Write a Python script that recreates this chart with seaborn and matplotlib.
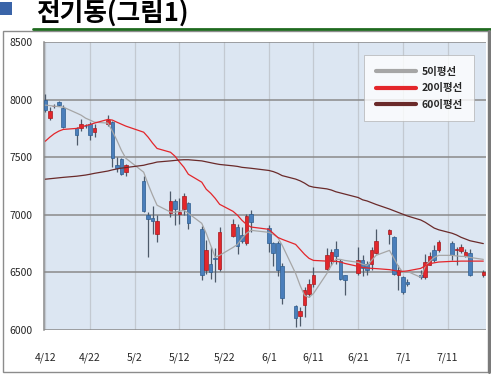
import numpy as np
import pandas as pd
import matplotlib
matplotlib.use("Agg")
import matplotlib.pyplot as plt
import matplotlib.dates as mdates
from matplotlib.lines import Line2D
from matplotlib.patches import Rectangle
import seaborn as sns

# trading days (2010)
days = ["04-12", "04-13", "04-14", "04-15", "04-16",
        "04-19", "04-20", "04-21", "04-22", "04-23",
        "04-26", "04-27", "04-28", "04-29", "04-30",
        "05-04", "05-05", "05-06", "05-07",
        "05-10", "05-11", "05-12", "05-13", "05-14",
        "05-17", "05-18", "05-19", "05-20", "05-21",
        "05-24", "05-25", "05-26", "05-27", "05-28",
        "06-01", "06-02", "06-03", "06-04",
        "06-07", "06-08", "06-09", "06-10", "06-11",
        "06-14", "06-15", "06-16", "06-17", "06-18",
        "06-21", "06-22", "06-23", "06-24", "06-25",
        "06-28", "06-29", "06-30", "07-01", "07-02",
        "07-05", "07-06", "07-07", "07-08", "07-09",
        "07-12", "07-13", "07-14", "07-15", "07-16",
        "07-19"]

opens = [7996, 7839, 7942, 7981, 7929,
         7750, 7755, 7775, 7784, 7715,
         7784, 7807, 7430, 7483, 7372,
         7291, 7002, 6972, 6836,
         7019, 7117, 7011, 7054, 7099,
         6880, 6517, 6570, 6625, 6532,
         6813, 6894, 6822, 6758, 7004,
         6889, 6755, 6755, 6552,
         6204, 6118, 6213, 6315, 6402,
         6526, 6604, 6706, 6596, 6474,
         6497, 6604, 6576, 6576, 6671,
         6837, 6807, 6474, 6459, 6416,
         6474, 6459, 6567, 6697, 6691,
         6758, 6695, 6683, 6642, 6671,
         6474]
closes = [7909, 7900, 7948, 7952, 7763,
          7697, 7787, 7770, 7697, 7750,
          7822, 7497, 7402, 7358, 7428,
          7033, 6961, 6946, 6943,
          7120, 7054, 7028, 7161, 6929,
          6474, 6691, 6503, 6615, 6851,
          6923, 6726, 6772, 6987, 6937,
          6755, 6668, 6523, 6280,
          6106, 6164, 6343, 6402, 6474,
          6654, 6677, 6642, 6439, 6430,
          6604, 6537, 6517, 6697, 6770,
          6871, 6489, 6517, 6329, 6402,
          6462, 6590, 6639, 6610, 6763,
          6647, 6700, 6720, 6677, 6474,
          6503]
highs = [8045, 7937, 7965, 7990, 7952,
         7760, 7830, 7790, 7804, 7784,
         7865, 7815, 7503, 7490, 7437,
         7335, 7020, 7074, 6996,
         7207, 7141, 7150, 7190, 7110,
         6900, 6778, 6720, 6709, 6890,
         6965, 6923, 6894, 7010, 7045,
         6909, 6765, 6770, 6580,
         6215, 6198, 6370, 6445, 6546,
         6711, 6706, 6775, 6620, 6480,
         6720, 6648, 6600, 6720, 6874,
         6880, 6815, 6561, 6470, 6440,
         6517, 6660, 6680, 6740, 6780,
         6770, 6720, 6750, 6700, 6706,
         6520]
lows = [7893, 7822, 7930, 7945, 7752,
        7610, 7730, 7755, 7648, 7676,
        7775, 7416, 7372, 7345, 7340,
        7020, 6633, 6830, 6763,
        6981, 6909, 6917, 6996, 6880,
        6430, 6489, 6445, 6416, 6510,
        6805, 6657, 6755, 6740, 6851,
        6677, 6552, 6470, 6230,
        6030, 6039, 6110, 6285, 6372,
        6517, 6561, 6575, 6430, 6300,
        6474, 6468, 6480, 6517, 6663,
        6750, 6474, 6343, 6310, 6385,
        6445, 6440, 6560, 6590, 6680,
        6610, 6561, 6670, 6630, 6465,
        6460]

ma5 = [7952, 7948, 7943, 7939, 7935,
       7883, 7865, 7839, 7822, 7804,
       7796, 7726, 7648, 7561, 7491,
       7370, 7265, 7170, 7083,
       7024, 7022, 7030, 7039, 7013,
       6926, 6839, 6735, 6633, 6648,
       6717, 6743, 6796, 6839, 6865,
       6848, 6830, 6804, 6735,
       6491, 6387, 6300, 6283, 6317,
       6491, 6561, 6613, 6613, 6604,
       6587, 6570, 6561, 6604, 6648,
       6691, 6622, 6552, 6500, 6509,
       6457, 6552, 6596, 6630, 6648,
       6648, 6643, 6639, 6639, 6630,
       6613]
ma20 = [7639, 7674, 7704, 7726, 7741,
        7750, 7761, 7774, 7783, 7796,
        7828, 7822, 7804, 7787, 7770,
        7717, 7674, 7622, 7576,
        7543, 7509, 7459, 7413, 7352,
        7283, 7222, 7187, 7143, 7091,
        7030, 6996, 6952, 6917, 6894,
        6874, 6839, 6804, 6787,
        6743, 6700, 6657, 6622, 6604,
        6598, 6596, 6596, 6591, 6578,
        6552, 6543, 6539, 6535, 6533,
        6524, 6517, 6509, 6509, 6513,
        6535, 6557, 6576, 6583, 6590,
        6596, 6596, 6598, 6598, 6598,
        6598]
ma60 = [7309, 7313, 7317, 7321, 7325,
        7335, 7340, 7345, 7352, 7360,
        7380, 7390, 7398, 7405, 7410,
        7430, 7440, 7448, 7458,
        7468, 7472, 7476, 7478, 7478,
        7468, 7460, 7452, 7444, 7437,
        7425, 7420, 7412, 7408, 7404,
        7385, 7375, 7360, 7340,
        7310, 7295, 7275, 7250, 7240,
        7225, 7215, 7200, 7190, 7180,
        7150, 7130, 7120, 7105, 7090,
        7050, 7035, 7020, 7005, 6990,
        6955, 6935, 6910, 6885, 6870,
        6840, 6825, 6805, 6790, 6775,
        6750]

tick_labels = ["4/12", "4/22", "5/2", "5/12", "5/22", "6/1", "6/11", "6/21", "7/1", "7/11"]
y_ticks = [6000, 6500, 7000, 7500, 8000, 8500]
ma_names = ["5이평선", "20이평선", "60이평선"]
ma_colors = ["#a6a6a6", "#e3262b", "#6a2a2a"]

df = pd.DataFrame({"date": pd.to_datetime(["2010-" + d for d in days]),
                   "open": opens, "high": highs, "low": lows, "close": closes,
                   "5이평선": ma5, "20이평선": ma20, "60이평선": ma60})
df["x"] = mdates.date2num(df["date"])
long = df.melt(id_vars="x", value_vars=ma_names, var_name="ma", value_name="v")

sns.set_style("white")
plt.rcParams["font.family"] = ["Noto Sans CJK KR", "DejaVu Sans"]

fig = plt.figure(figsize=(4.91, 3.77), dpi=100)
W, H = 491, 377
ax = fig.add_axes([44 / W, 1 - 330 / H, (486 - 44) / W, (330 - 42) / H])
ax.set_facecolor("#dce6f2")

# candles
up = df["close"] >= df["open"]
face = np.where(up, "#e3262b", "#4a7ebb")
edge = np.where(up, "#a51a1e", "#2d5d8f")
ax.vlines(df["x"], df["low"], df["high"], color="#4d5a6a", lw=0.9, zorder=3)
ax.bar(df["x"], df["close"] - df["open"], bottom=df["open"], width=0.8,
       color=face, edgecolor=edge, linewidth=0.5, zorder=4)

# moving averages
sns.lineplot(data=long, x="x", y="v", hue="ma", hue_order=ma_names,
             palette=ma_colors, linewidth=0.9, legend=False, ax=ax, zorder=5)

x0 = mdates.date2num(pd.Timestamp("2010-04-12"))
ax.set_xlim(x0 - 0.3, df["x"].iloc[-1] + 0.6)
ax.set_ylim(6000, 8500)

tick_x = [mdates.date2num(pd.Timestamp("2010-" + t.replace("/", "-"))) for t in tick_labels]
ax.set_xticks(tick_x)
ax.set_xticklabels(tick_labels, fontsize=7.5)
ax.set_yticks(y_ticks)
ax.set_yticklabels([str(v) for v in y_ticks], fontsize=7.5)
ax.tick_params(axis="x", length=0, pad=16)
ax.tick_params(axis="y", length=0, pad=8)

ax.set_xlabel("")
ax.set_ylabel("")
for v in tick_x:
    ax.axvline(v, color="#c3c9d1", lw=0.9, zorder=1)
for v in y_ticks:
    ax.axhline(v, color="#8a8a8a", lw=1.1, zorder=2)
for s in ["top", "bottom", "right"]:
    ax.spines[s].set_visible(False)
ax.spines["left"].set_color("#8a8a8a")
ax.spines["left"].set_linewidth(1.1)

# legend
handles = [Line2D([0], [0], color=c, lw=3) for c in ma_colors]
leg = ax.legend(handles, ma_names, loc="upper right", bbox_to_anchor=(0.985, 0.972),
                fontsize=7.5, frameon=True, fancybox=False, handlelength=3.9,
                handletextpad=0.5, labelspacing=0.62, borderpad=1.1)
leg.get_frame().set_edgecolor("#b0b0b0")
leg.get_frame().set_linewidth(0.6)
for t in leg.get_texts():
    t.set_fontweight("bold")

# title block
fig.patches.append(Rectangle((0, 1 - 15 / H), 12 / W, 13 / H, transform=fig.transFigure,
                             facecolor="#3a64a8", edgecolor="none"))
fig.text(36 / W, 1 - 14 / H, "전기동(그림1)", fontsize=18.5, fontweight="bold",
         va="center", ha="left", color="black")
fig.add_artist(Line2D([33 / W, 1], [1 - 28.5 / H, 1 - 28.5 / H], transform=fig.transFigure,
                      color="#1f6a1f", lw=2))
# chart frame
fig.patches.append(Rectangle((3 / W, 1 - 372 / H), 485 / W, 341 / H, transform=fig.transFigure,
                             facecolor="none", edgecolor="#8c8c8c", lw=1))
fig.add_artist(Line2D([488.5 / W, 488.5 / W], [1 - 372 / H, 1 - 31 / H], transform=fig.transFigure,
                      color="#7a7a7a", lw=2.2))

fig.savefig("out.png", dpi=100)
